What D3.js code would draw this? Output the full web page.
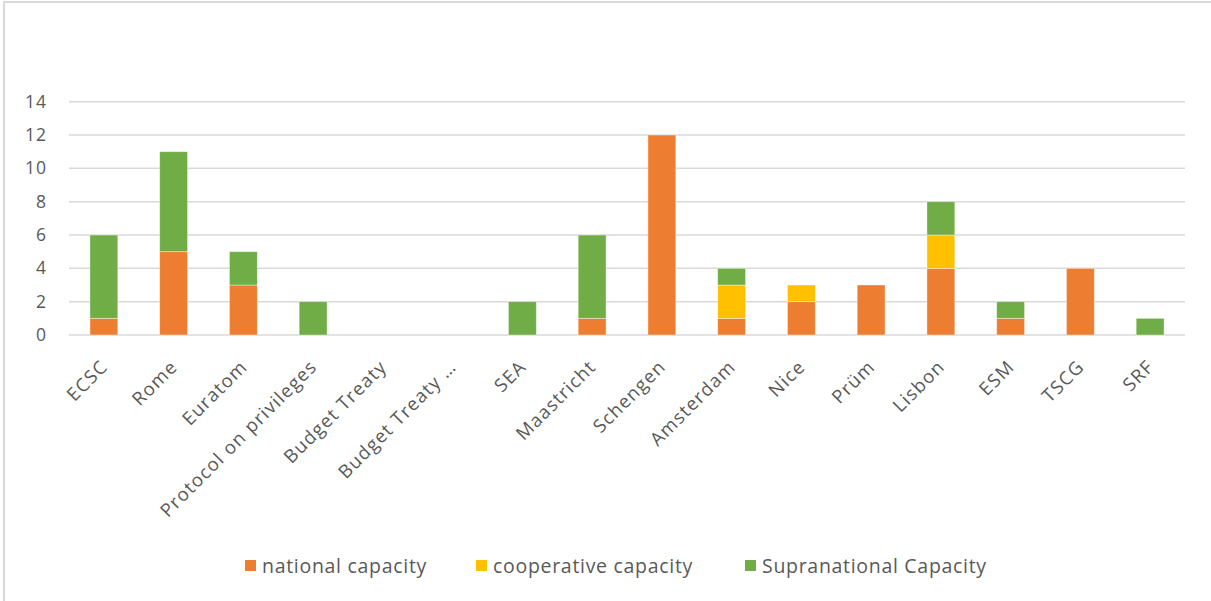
<!DOCTYPE html>
<html>
<head>
<meta charset="utf-8">
<script src="https://cdn.jsdelivr.net/npm/d3@7"></script>
<style>
  html, body { margin: 0; padding: 0; background: #fff; }
  svg { display: block; }
  text { font-family: "Open Sans", "Liberation Sans", sans-serif; fill: #595959; }
</style>
</head>
<body>
<svg id="chart" width="1211" height="601"></svg>
<script>
// Treaties / agreements along the x axis
const categories = ["ECSC", "Rome", "Euratom", "Protocol on privileges", "Budget Treaty",
  "Budget Treaty \u2026", "SEA", "Maastricht", "Schengen", "Amsterdam", "Nice", "Pr\u00fcm",
  "Lisbon", "ESM", "TSCG", "SRF"];

// Stacked series (counts per treaty)
const nationalCapacity      = [1, 5, 3, 0, 0, 0, 0, 1, 12, 1, 2, 3, 4, 1, 4, 0];
const cooperativeCapacity   = [0, 0, 0, 0, 0, 0, 0, 0, 0, 2, 1, 0, 2, 0, 0, 0];
const supranationalCapacity = [5, 6, 2, 2, 0, 0, 2, 5, 0, 1, 0, 0, 2, 1, 0, 1];

const seriesNames = ["national capacity", "cooperative capacity", "Supranational Capacity"];
const seriesColors = ["#ED7D31", "#FFC000", "#70AD47"];
const yTicks = [0, 2, 4, 6, 8, 10, 12, 14];

const svg = d3.select("#chart");

// Outer chart frame
svg.append("rect")
  .attr("x", 4).attr("y", 2)
  .attr("width", 1260).attr("height", 700)
  .attr("fill", "none")
  .attr("stroke", "#d9d9d9")
  .attr("stroke-width", 2);

const plot = { left: 69, right: 1185, top: 101.7, bottom: 335 };

const x = d3.scaleBand()
  .domain(categories)
  .range([plot.left, plot.right])
  .paddingInner(0.6)
  .paddingOuter(0.3);

const y = d3.scaleLinear()
  .domain([0, 14])
  .range([plot.bottom, plot.top]);

// Horizontal gridlines
svg.append("g")
  .selectAll("line")
  .data(yTicks)
  .join("line")
  .attr("x1", plot.left).attr("x2", plot.right)
  .attr("y1", d => y(d)).attr("y2", d => y(d))
  .attr("stroke", "#d9d9d9")
  .attr("stroke-width", 1.5);

// Y axis labels
const yAxis = d3.axisLeft(y).tickValues(yTicks).tickSize(0).tickPadding(0);
const yg = svg.append("g")
  .attr("transform", `translate(${plot.left - 22},0)`)
  .call(yAxis);
yg.select(".domain").remove();
yg.selectAll("text")
  .attr("font-size", 17.5)
  .attr("letter-spacing", 1)
  .attr("fill", "#595959")
  .style("font-family", "'Open Sans', sans-serif");

// Stack the three series
const rows = categories.map((c, i) => ({
  cat: c,
  s0: nationalCapacity[i],
  s1: cooperativeCapacity[i],
  s2: supranationalCapacity[i]
}));
const stack = d3.stack().keys(["s0", "s1", "s2"]);
const stacked = stack(rows);

svg.append("g")
  .selectAll("g")
  .data(stacked)
  .join("g")
  .attr("fill", (d, i) => seriesColors[i])
  .selectAll("rect")
  .data(d => d.filter(p => p[1] - p[0] > 0))
  .join("rect")
  .attr("x", d => x(d.data.cat))
  .attr("width", x.bandwidth())
  .attr("y", d => y(d[1]))
  .attr("height", d => y(d[0]) - y(d[1]))
  .attr("stroke", "#ffffff")
  .attr("stroke-opacity", 0.5)
  .attr("stroke-width", 0.8);

// Rotated category labels
const xAxis = d3.axisBottom(x).tickSize(0).tickPadding(0);
const xg = svg.append("g")
  .attr("transform", `translate(0,${plot.bottom})`)
  .call(xAxis);
xg.select(".domain").remove();
xg.selectAll(".tick text")
  .attr("font-size", 18.5)
  .attr("letter-spacing", 1.2)
  .attr("fill", "#595959")
  .style("font-family", "'Open Sans', sans-serif")
  .attr("text-anchor", "end")
  .attr("dy", 0)
  .attr("y", 0)
  .attr("transform", "translate(5,33) rotate(-45)");

// Legend
const legendX = [245, 476, 745];
const legend = svg.append("g");
seriesNames.forEach((name, i) => {
  legend.append("rect")
    .attr("x", legendX[i]).attr("y", 560)
    .attr("width", 11).attr("height", 11)
    .attr("fill", seriesColors[i]);
  legend.append("text")
    .attr("x", legendX[i] + 17).attr("y", 573)
    .attr("font-size", 19.5)
    .attr("letter-spacing", 0.7)
    .text(name);
});
</script>
</body>
</html>
